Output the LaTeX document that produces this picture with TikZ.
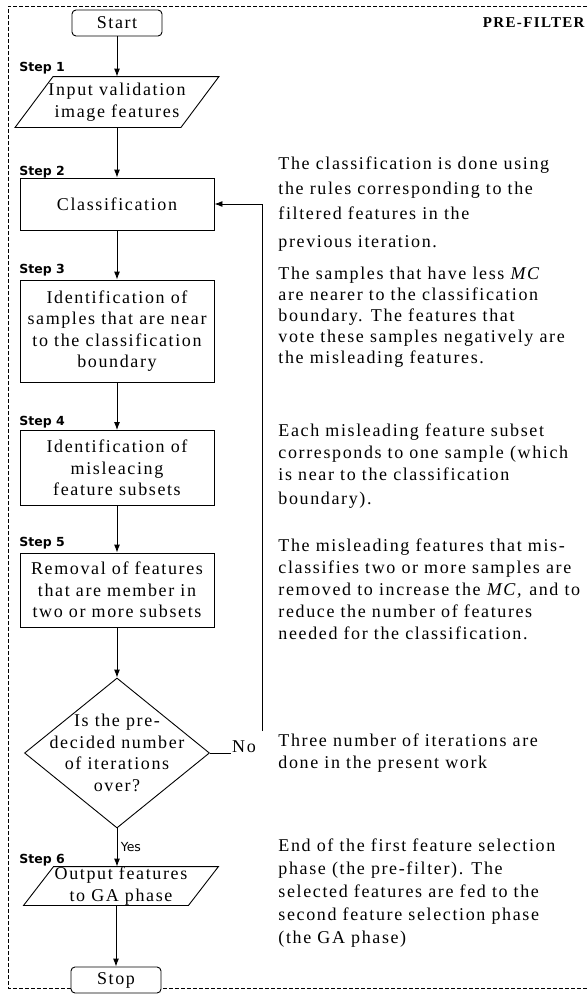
\documentclass[tikz,border=0pt]{standalone}
\usepackage{fontspec}
\setmainfont{Liberation Serif}[LetterSpace=9]
\newfontfamily\stepfont{DejaVu Sans}
\usetikzlibrary{shapes.geometric,arrows.meta}

\begin{document}
\begin{tikzpicture}[x=1pt,y=-1pt,line width=0.9pt,
  font=\fontsize{18}{21.5}\selectfont,
  box/.style={draw,rectangle,minimum width=194pt,minimum height=#1,align=center,inner sep=0pt},
  term/.style={draw,rounded corners=4pt,minimum width=90pt,minimum height=26pt,inner sep=0pt,fill=white},
  io/.style={rectangle,minimum width=165pt,minimum height=#1,align=center,inner sep=0pt},
  steplbl/.style={anchor=west,inner sep=0pt,font=\stepfont\bfseries\fontsize{12.5}{14}\selectfont},
  note/.style={anchor=north west,align=left,inner sep=0pt},
  arr/.style={-{Latex[length=8pt,width=6pt]}}]
\useasboundingbox (0,0) rectangle (587,999);
\draw[line width=0.7pt,dash pattern=on 4pt off 2pt] (587,6) -- (8,6) -- (8,988) -- (587,988);

\node[anchor=east,inner sep=0pt,font=\bfseries\fontsize{15}{17}\selectfont] (title) at (585,23) {PRE-FILTER};

\node[term] (start) at (117,23) {Start};
\node[io=50pt] (in) at (117,102) {Input validation\\image features};
\draw ([xshift=19pt]in.north west) -- ([xshift=19pt]in.north east) -- ([xshift=-19pt]in.south east) -- ([xshift=-19pt]in.south west) -- cycle;
\node[box=52pt] (cls) at (117,204) {Classification};
\node[box=102pt] (ident) at (117,331) {Identification of\\samples that are near\\to the classification\\boundary};
\node[box=75pt] (mis) at (117,468) {Identification of\\misleacing\\feature subsets};
\node[box=74pt] (rem) at (117,590) {Removal of features\\that are member in\\two or more subsets};
\node[draw,diamond,minimum width=185pt,minimum height=150pt,inner sep=0pt] (dec) at (117,753) {};
\node[align=center] (dectext) at (dec.center) {Is the pre-\\decided number\\of iterations\\over?};
\node[io=38pt,minimum width=164pt] (out) at (121,886) {Output features\\to GA phase};
\draw ([xshift=15pt]out.north west) -- ([xshift=15pt]out.north east) -- ([xshift=-15pt]out.south east) -- ([xshift=-15pt]out.south west) -- cycle;
\node[term] (stop) at (116,980) {Stop};

\node[steplbl] (s1) at (19,68) {Step 1};
\node[steplbl] (s2) at (19,172) {Step 2};
\node[steplbl] (s3) at (19,270) {Step 3};
\node[steplbl] (s4) at (19,422) {Step 4};
\node[steplbl] (s5) at (19,543) {Step 5};
\node[steplbl] (s6) at (19,860) {Step 6};

\draw[arr] (start) -- (in);
\draw[arr] (in) -- (cls);
\draw[arr] (cls) -- (ident);
\draw[arr] (ident) -- (mis);
\draw[arr] (mis) -- (rem);
\draw[arr] (rem) -- (dec);
\draw[arr] (dec.south) -- node[right,font=\stepfont\fontsize{12.5}{14}\selectfont] (yes) {Yes} (dec.south |- out.north);
\draw[arr] (stop.north |- out.south) -- (stop.north);
\node[inner sep=1pt] (no) at (244,747) {No};
\draw (dec.east) -- (dec.east -| no.west);
\coordinate (turn) at (262,731);
\draw[arr] (turn) |- (cls.east);

\node[note,font=\fontsize{18}{25}\selectfont] (n1) at (278,156) {The classification is done using\\the rules corresponding to the\\filtered features in the\\[3pt]previous iteration.};
\node[note,font=\fontsize{18}{21}\selectfont] (n2) at (278,267) {The samples that have less \textit{MC}\\are nearer to the classification\\boundary. The features that\\vote these samples negatively are\\the misleading features.};
\node[note,font=\fontsize{18}{22}\selectfont] (n3) at (278,423) {Each misleading feature subset\\corresponds to one sample (which\\is near to the classification\\[2pt]boundary).};
\node[note,font=\fontsize{18}{22}\selectfont] (n4) at (278,538) {The misleading features that mis-\\classifies two or more samples are\\removed to increase the \textit{MC,} and to\\reduce the number of features\\needed for the classification.};
\node[note,font=\fontsize{18}{22}\selectfont] (n5) at (278,733) {Three number of iterations are\\done in the present work};
\node[note,font=\fontsize{18}{23}\selectfont] (n6) at (278,838) {End of the first feature selection\\phase (the pre-filter). The\\selected features are fed to the\\second feature selection phase\\(the GA phase)};
\end{tikzpicture}
\end{document}
